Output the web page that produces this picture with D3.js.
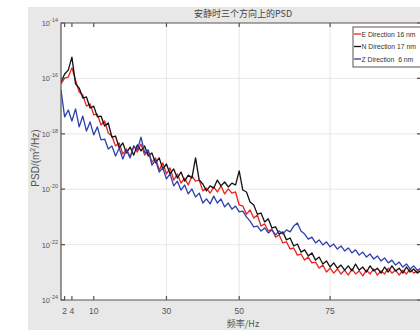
<!DOCTYPE html>
<html lang="zh">
<head>
<meta charset="UTF-8">
<title>PSD</title>
<script src="https://cdn.jsdelivr.net/npm/d3@7"></script>
<style>
  * { margin: 0; padding: 0; }
  body { background: #fff; }
  svg { display: block; font-family: "Liberation Sans", Arial, sans-serif; }
</style>
</head>
<body>
<svg id="chart" width="420" height="330"></svg>
<script>
  // frequency grid, Hz
  const freq = d3.range(1, 101);
  // log10 PSD (m^2/Hz)
  const eDir = [
    -16.20,-15.99,-15.95,-15.62,-16.06,-16.49,-16.60,-17.00,-16.92,-17.32,
    -17.29,-17.68,-17.54,-17.97,-18.08,-18.44,-18.33,-18.73,-18.55,-18.84,
    -18.44,-18.66,-18.37,-18.77,-18.62,-19.02,-18.87,-19.31,-19.05,-19.45,
    -19.23,-19.67,-19.45,-19.78,-19.60,-19.85,-19.52,-19.71,-19.67,-20.06,
    -19.96,-20.14,-19.92,-20.10,-19.88,-20.17,-19.99,-20.14,-20.10,-20.57,
    -20.61,-20.90,-20.75,-21.04,-20.93,-21.33,-21.25,-21.51,-21.44,-21.73,
    -21.65,-21.94,-21.90,-22.16,-22.12,-22.38,-22.34,-22.56,-22.45,-22.66,
    -22.63,-22.85,-22.74,-22.99,-22.85,-23.03,-22.88,-23.06,-22.92,-23.10,
    -22.88,-23.06,-22.95,-23.13,-22.92,-23.06,-22.88,-23.10,-22.95,-23.06,
    -22.85,-23.03,-22.92,-23.10,-22.92,-23.06,-22.88,-23.03,-22.95,-22.99
  ];
  const nDir = [
    -16.13,-15.84,-15.70,-15.23,-16.20,-16.35,-16.71,-16.67,-17.07,-17.00,
    -17.39,-17.36,-17.72,-17.61,-18.12,-18.08,-18.51,-18.33,-18.69,-18.48,
    -18.77,-18.40,-18.62,-18.44,-18.80,-18.69,-19.05,-18.87,-19.27,-19.09,
    -19.45,-19.27,-19.60,-19.38,-19.71,-19.49,-19.60,-18.87,-19.67,-19.81,
    -20.06,-19.88,-19.96,-19.67,-19.88,-19.74,-19.92,-19.78,-19.85,-19.34,
    -20.03,-20.10,-20.46,-20.57,-20.90,-20.86,-21.18,-21.07,-21.40,-21.36,
    -21.62,-21.54,-21.83,-21.76,-22.05,-21.98,-22.27,-22.19,-22.41,-22.30,
    -22.56,-22.45,-22.70,-22.59,-22.81,-22.66,-22.85,-22.74,-22.92,-22.77,
    -22.95,-22.70,-22.92,-22.81,-22.99,-22.77,-22.95,-22.85,-23.03,-22.81,
    -22.99,-22.77,-22.95,-22.85,-23.03,-22.81,-22.99,-22.88,-23.03,-22.92
  ];
  const zDir = [
    -16.42,-17.39,-17.14,-17.54,-17.10,-17.75,-17.36,-17.90,-17.57,-18.04,
    -17.75,-18.22,-18.19,-18.55,-18.44,-18.80,-18.51,-18.91,-18.58,-18.87,
    -18.44,-18.58,-18.12,-18.69,-18.58,-19.13,-18.95,-19.38,-19.23,-19.63,
    -19.45,-19.88,-19.71,-20.03,-19.85,-20.17,-19.99,-20.28,-20.14,-20.50,
    -20.35,-20.53,-20.25,-20.50,-20.35,-20.64,-20.50,-20.72,-20.61,-20.82,
    -20.79,-21.00,-21.15,-21.36,-21.33,-21.51,-21.40,-21.58,-21.47,-21.65,
    -21.51,-21.62,-21.47,-21.54,-21.33,-21.22,-21.51,-21.62,-21.80,-21.73,
    -21.94,-21.83,-22.01,-21.90,-22.08,-21.98,-22.16,-22.05,-22.23,-22.12,
    -22.30,-22.19,-22.38,-22.27,-22.45,-22.34,-22.52,-22.41,-22.59,-22.48,
    -22.66,-22.56,-22.74,-22.63,-22.81,-22.70,-22.88,-22.77,-22.92,-22.85
  ];
  const xTicks = [2, 4, 10, 30, 50, 75];
  const yTickExps = [-24, -22, -20, -18, -16, -14];
  const legendLabels = ["E Direction 16 nm", "N Direction 17 nm", "Z Direction  6 nm"];
  const colors = ["#e8231e", "#111111", "#2e3fae"];

  const svg = d3.select('#chart');
  const L = 61, R = 421, T = 23, B = 300;
  const axisColor = '#5d524c';

  // figure background
  svg.append('rect').attr('x', 28).attr('y', 7).attr('width', 400).attr('height', 330).attr('fill', '#e8e8e8');
  svg.append('rect').attr('x', L).attr('y', T).attr('width', R - L).attr('height', B - T).attr('fill', '#fff');

  const x = d3.scaleLinear().domain([1, 100]).range([L, R]);
  const y = d3.scaleLog().domain([1e-24, 1e-14]).range([B, T]);

  // grid
  const grid = svg.append('g').attr('stroke', '#e6e1dd').attr('stroke-width', 0.8);
  grid.selectAll('.gy').data(yTickExps.slice(1, -1)).join('line')
    .attr('x1', L).attr('x2', R)
    .attr('y1', d => y(Math.pow(10, d))).attr('y2', d => y(Math.pow(10, d)));
  grid.selectAll('.gx').data(xTicks.slice(3)).join('line')
    .attr('y1', T).attr('y2', B)
    .attr('x1', d => x(d)).attr('x2', d => x(d));

  svg.append('clipPath').attr('id', 'clip')
    .append('rect').attr('x', L).attr('y', T).attr('width', R - L).attr('height', B - T);

  const line = d3.line().x(d => x(d[0])).y(d => y(Math.pow(10, d[1])));
  const series = [eDir, nDir, zDir];
  [0, 1, 2].forEach(i => {
    svg.append('path')
      .datum(freq.map((f, j) => [f, series[i][j]]))
      .attr('clip-path', 'url(#clip)')
      .attr('fill', 'none')
      .attr('stroke', colors[i])
      .attr('stroke-width', 1.3)
      .attr('stroke-linejoin', 'round')
      .attr('d', line);
  });

  // axes box + ticks
  const ax = svg.append('g').attr('stroke', axisColor).attr('stroke-width', 1.2).attr('fill', 'none');
  ax.append('path').attr('d', `M${R},${T}H${L}V${B}H${R}`);
  ax.selectAll('.tx').data(xTicks).join('path')
    .attr('d', d => `M${x(d)},${B}v-4M${x(d)},${T}v4`);
  ax.selectAll('.ty').data(yTickExps).join('path')
    .attr('d', d => `M${L},${y(Math.pow(10, d))}h4M${R},${y(Math.pow(10, d))}h-4`);

  // tick labels
  svg.selectAll('.xl').data(xTicks).join('text')
    .attr('x', d => x(d)).attr('y', 314)
    .attr('text-anchor', 'middle').attr('font-size', 8.5).attr('fill', '#555')
    .text(d => d);
  const yl = svg.selectAll('.yl').data(yTickExps).join('text')
    .attr('x', 58).attr('y', d => y(Math.pow(10, d)) + 3)
    .attr('text-anchor', 'end').attr('font-size', 7.5).attr('fill', '#555');
  yl.append('tspan').text('10');
  yl.append('tspan').attr('dy', -4).attr('font-size', 5.5).text(d => d);

  // titles
  svg.append('text').attr('x', 243).attr('y', 17).attr('text-anchor', 'middle')
    .attr('font-family', '"Noto Sans CJK SC", sans-serif').attr('font-size', 9).attr('fill', '#444')
    .text('安静时三个方向上的PSD');
  svg.append('text').attr('x', 243).attr('y', 327).attr('text-anchor', 'middle')
    .attr('font-family', '"Noto Sans CJK SC", sans-serif').attr('font-size', 9).attr('fill', '#555')
    .text('频率/Hz');
  const ylab = svg.append('text').attr('transform', 'translate(39,158) rotate(-90)')
    .attr('text-anchor', 'middle').attr('font-size', 10).attr('fill', '#555');
  ylab.append('tspan').text('PSD/(m');
  ylab.append('tspan').attr('dy', -4).attr('font-size', 7).text('2');
  ylab.append('tspan').attr('dy', 4).text('/Hz)');

  // legend
  const lg = svg.append('g');
  lg.append('rect').attr('x', 353).attr('y', 27).attr('width', 80).attr('height', 40)
    .attr('fill', '#fff').attr('stroke', axisColor).attr('stroke-width', 1);
  legendLabels.forEach((t, i) => {
    const yy = 34 + i * 12.5;
    lg.append('line').attr('x1', 354).attr('x2', 361).attr('y1', yy).attr('y2', yy)
      .attr('stroke', colors[i]).attr('stroke-width', 1.3);
    lg.append('text').attr('x', 361.5).attr('y', yy + 2.5).attr('font-size', 6.8).attr('fill', '#333')
      .style('white-space', 'pre').text(t);
  });
</script>
</body>
</html>
